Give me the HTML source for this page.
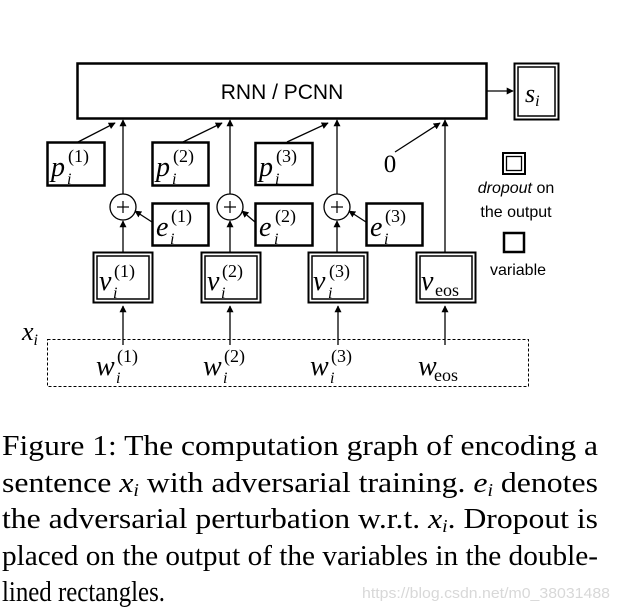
<!DOCTYPE html>
<html><head><meta charset="utf-8"><style>
html,body{margin:0;padding:0;background:#fff;}
svg{display:block;}
.m{font-family:"Liberation Serif",serif;font-style:italic;}
.u{font-family:"Liberation Serif",serif;font-style:normal;}
.s{font-family:"Liberation Sans","DejaVu Sans",sans-serif;}
.c{font-family:"Liberation Serif",serif;font-size:29px;fill:#000;}
</style></head><body>
<svg width="619" height="611" viewBox="0 0 619 611" xmlns="http://www.w3.org/2000/svg">
<defs>
<marker id="a" viewBox="0 0 10 10" refX="9" refY="5" markerWidth="7" markerHeight="7" orient="auto" markerUnits="userSpaceOnUse"><path d="M0,0 L10,5 L0,10 z" fill="#000"/></marker>
</defs>
<g fill="none" stroke="#000">
<rect x="77.5" y="63.5" width="409" height="55" stroke-width="2.5"/>
<rect x="514.5" y="63.5" width="44" height="56" stroke-width="2"/>
<rect x="518" y="67" width="37" height="49" stroke-width="1.5"/>
<line x1="486" y1="91" x2="513" y2="91" stroke-width="1.3" marker-end="url(#a)"/>
<rect x="47.5" y="142.5" width="57" height="43" stroke-width="2.5"/>
<rect x="152.5" y="142.5" width="56" height="43" stroke-width="2.5"/>
<rect x="255.5" y="143" width="57" height="42" stroke-width="2.5"/>
<rect x="152.5" y="203.5" width="56" height="42" stroke-width="2.5"/>
<rect x="255.5" y="203.5" width="57" height="42" stroke-width="2.5"/>
<rect x="366.5" y="203.5" width="56" height="42" stroke-width="2.5"/>
<rect x="93.5" y="252.5" width="59" height="50" stroke-width="2"/>
<rect x="97" y="256" width="52" height="43" stroke-width="1.5"/>
<rect x="201.5" y="252.5" width="59" height="50" stroke-width="2"/>
<rect x="205" y="256" width="52" height="43" stroke-width="1.5"/>
<rect x="308.5" y="252.5" width="59" height="50" stroke-width="2"/>
<rect x="312" y="256" width="52" height="43" stroke-width="1.5"/>
<rect x="416.5" y="252.5" width="59" height="50" stroke-width="2"/>
<rect x="420" y="256" width="52" height="43" stroke-width="1.5"/>
<rect x="47.5" y="339.5" width="481" height="47" stroke-width="1" stroke-dasharray="3,2"/>
<circle cx="123" cy="207" r="13" stroke-width="1.3"/>
<circle cx="230" cy="207" r="13" stroke-width="1.3"/>
<circle cx="337" cy="207" r="13" stroke-width="1.3"/>
<g stroke-width="1.2">
<line x1="117" y1="207" x2="129" y2="207"/><line x1="123" y1="201" x2="123" y2="213"/>
<line x1="224" y1="207" x2="236" y2="207"/><line x1="230" y1="201" x2="230" y2="213"/>
<line x1="331" y1="207" x2="343" y2="207"/><line x1="337" y1="201" x2="337" y2="213"/>
</g>
<g stroke-width="1.3" marker-end="url(#a)">
<line x1="123" y1="194" x2="123" y2="120"/>
<line x1="230" y1="194" x2="230" y2="120"/>
<line x1="337" y1="194" x2="337" y2="120"/>
<line x1="445" y1="252" x2="445" y2="120"/>
<line x1="123" y1="252" x2="123" y2="221"/>
<line x1="230" y1="252" x2="230" y2="221"/>
<line x1="337" y1="252" x2="337" y2="221"/>
<line x1="123" y1="345" x2="123" y2="306"/>
<line x1="230" y1="345" x2="230" y2="306"/>
<line x1="338" y1="345" x2="338" y2="306"/>
<line x1="445" y1="345" x2="445" y2="306"/>
<line x1="78" y1="142" x2="115" y2="123"/>
<line x1="183" y1="142" x2="222" y2="123"/>
<line x1="287" y1="142" x2="328" y2="123"/>
<line x1="395" y1="152" x2="440" y2="123"/>
<line x1="152" y1="222" x2="135" y2="211"/>
<line x1="255" y1="222" x2="242" y2="211"/>
<line x1="366" y1="222" x2="349" y2="211"/>
</g>
<rect x="503" y="153" width="22" height="21" stroke-width="2"/>
<rect x="506.5" y="156.5" width="15" height="14" stroke-width="1.3"/>
<rect x="504" y="233" width="20" height="19" stroke-width="2.5"/>
</g>
<g fill="#000">
<text x="282" y="99" class="s" font-size="21" text-anchor="middle">RNN / PCNN</text>
<text x="525" y="102" class="m" font-size="26">s<tspan font-size="16" dy="4">i</tspan></text>
<text x="390" y="172" class="u" font-size="25" text-anchor="middle">0</text>
<text x="516" y="193" class="s" font-size="16" text-anchor="middle"><tspan font-style="italic">dropout</tspan> on</text>
<text x="516" y="217" class="s" font-size="16" text-anchor="middle">the output</text>
<text x="518" y="275" class="s" font-size="16" text-anchor="middle">variable</text>
<text x="22" y="340" class="m" font-size="26">x<tspan font-size="16" dy="5">i</tspan></text>
<g class="m" font-size="28">
<text x="51" y="176">p</text>
<text x="156" y="176">p</text>
<text x="259" y="176">p</text>
<text x="156" y="236">e</text>
<text x="259" y="236">e</text>
<text x="370" y="236">e</text>
<text x="99" y="290">v</text>
<text x="207" y="290">v</text>
<text x="313" y="290">v</text>
<text x="96" y="375">w</text>
<text x="203" y="375">w</text>
<text x="310" y="375">w</text>
<text x="418" y="375">w</text>
<text x="421" y="290">v</text>
</g>
<g class="m" font-size="16">
<text x="67" y="184">i</text><text x="172" y="184">i</text><text x="275" y="184">i</text>
<text x="170" y="244">i</text><text x="274" y="244">i</text><text x="384" y="244">i</text>
<text x="113" y="298">i</text><text x="221" y="298">i</text><text x="328" y="298">i</text>
<text x="116" y="383">i</text><text x="223" y="383">i</text><text x="330" y="383">i</text>
</g>
<g class="u" font-size="18">
<text x="68" y="162">(1)</text><text x="173" y="162">(2)</text><text x="276" y="162">(3)</text>
<text x="171" y="222">(1)</text><text x="275" y="222">(2)</text><text x="385" y="222">(3)</text>
<text x="114" y="277">(1)</text><text x="222" y="277">(2)</text><text x="329" y="277">(3)</text>
<text x="117" y="362">(1)</text><text x="224" y="362">(2)</text><text x="331" y="362">(3)</text>
<text x="435" y="296" font-size="18">eos</text>
<text x="434" y="381" font-size="18">eos</text>
</g>
<text class="c" x="2" y="455" textLength="596" lengthAdjust="spacingAndGlyphs">Figure 1: The computation graph of encoding a</text>
<text class="c" x="2" y="492" textLength="596" lengthAdjust="spacingAndGlyphs">sentence <tspan font-style="italic">x<tspan font-size="18" dy="4">i</tspan></tspan><tspan dy="-4"> with adversarial training. </tspan><tspan font-style="italic">e<tspan font-size="18" dy="4">i</tspan></tspan><tspan dy="-4"> denotes</tspan></text>
<text class="c" x="2" y="528" textLength="596" lengthAdjust="spacingAndGlyphs">the adversarial perturbation w.r.t. <tspan font-style="italic">x<tspan font-size="18" dy="4">i</tspan></tspan><tspan dy="-4">. Dropout is</tspan></text>
<text class="c" x="2" y="565" textLength="596" lengthAdjust="spacingAndGlyphs">placed on the output of the variables in the double-</text>
<text class="c" x="2" y="601" textLength="163" lengthAdjust="spacingAndGlyphs">lined rectangles.</text>
<text x="362" y="598" font-family="Liberation Sans,sans-serif" font-size="15" fill="#d8d8d8" textLength="248" lengthAdjust="spacingAndGlyphs">https://blog.csdn.net/m0_38031488</text>
</g>
</svg>
</body></html>
